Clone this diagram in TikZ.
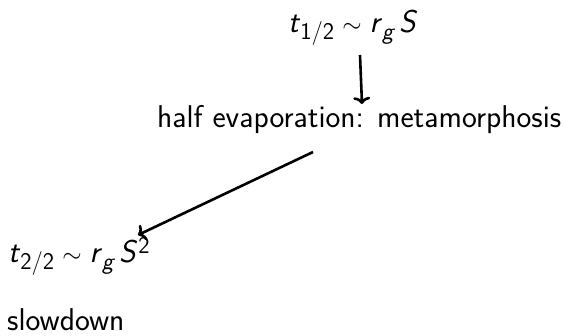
\documentclass[tikz,border=0pt]{standalone}
\renewcommand{\familydefault}{\sfdefault}
\usetikzlibrary{arrows.meta}
\newcommand{\sub}[1]{\raisebox{-6.5pt}{\fontsize{24}{28}\selectfont #1}}
\newcommand{\sps}[1]{\raisebox{9pt}{\fontsize{24}{28}\selectfont #1}}
\newcommand{\simrel}{\hspace{8pt}$\sim$\hspace{8pt}}
\tikzset{
  lbl/.style={inner sep=0pt, anchor=base west, font=\fontsize{31.5}{37}\selectfont},
  arr/.style={line width=2.6pt, -{To[length=7pt,width=17pt]}}
}
\begin{document}
\begin{tikzpicture}[x=1pt,y=-1pt]
\useasboundingbox (0,0) rectangle (565,336);
\node[lbl] (top) at (288,33) {\textit{t}\sub{1/2}\simrel\textit{r}\sub{\textit{g}}\hspace{4pt}\textit{S}};
\node[lbl] (mid) at (157,128) {half evaporation: metamorphosis};
\node[lbl] (low) at (8,263) {\textit{t}\sub{2/2}\simrel\textit{r}\sub{\textit{g}}\hspace{4pt}\textit{S}\hspace{1pt}\sps{2}};
\node[lbl] (slow) at (7,331) {slowdown};
\draw[arr] ([shift={(72,22)}]top.base west) -- ([shift={(205,-24)}]mid.base west);
\draw[arr] ([shift={(156,24)}]mid.base west) -- ([shift={(130,-28)}]low.base west);
\end{tikzpicture}
\end{document}
